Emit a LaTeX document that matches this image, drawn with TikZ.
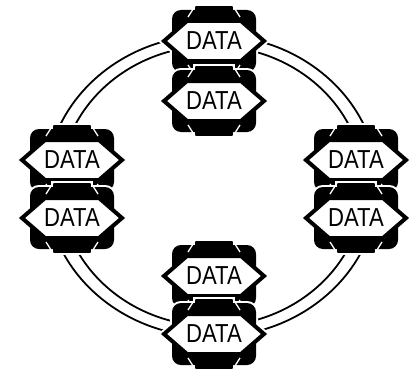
\documentclass[tikz,border=0pt]{standalone}
\usepackage{fontspec}
\setmainfont{Liberation Sans}
\begin{document}
\begin{tikzpicture}[x=1pt,y=-1pt,
  ringline/.style={draw=black, line width=1.8pt},
  datatext/.style={inner sep=0pt, font=\fontsize{26}{26}\selectfont},
  dataicon/.pic={
    % white halo
    \draw[white, line width=4pt, rounded corners=9pt] (-42,-31) rectangle (42,31);
    \draw[white, line width=4pt] (-19,-35) rectangle (19,35);
    \draw[white, line width=8pt, line join=miter] (-50,0) -- (-27,-20) -- (27,-20) -- (50,0) -- (27,20) -- (-27,20) -- cycle;
    % black body
    \fill[black, rounded corners=9pt] (-42,-31) rectangle (42,31);
    \fill[black] (-19,-35) rectangle (19,35);
    % notch lines
    \draw[white, line width=1.3pt] (-19,-35) -- (-26,-24) (19,-35) -- (26,-24)
                                   (-19,35) -- (-26,24) (19,35) -- (26,24);
    % hexagon
    \filldraw[fill=white, draw=black, line width=4pt, line join=miter]
      (-50,0) -- (-27,-20) -- (27,-20) -- (50,0) -- (27,20) -- (-27,20) -- cycle;
    \node[datatext] (-text) {\scalebox{0.85}[1]{DATA}};
  }]
\useasboundingbox (0,0) rectangle (411,369);
% ring
\draw[ringline] (212,186) ellipse [x radius=166, y radius=151];
\draw[ringline] (212,186) ellipse [x radius=152, y radius=140];
% icons
\pic (t1) at (214,41) {dataicon};
\pic (t2) at (214,101) {dataicon};
\pic (l1) at (72,160) {dataicon};
\pic (l2) at (72,218) {dataicon};
\pic (r1) at (356,160) {dataicon};
\pic (r2) at (356,218) {dataicon};
\pic (b1) at (214,276) {dataicon};
\pic (b2) at (214,334) {dataicon};
\end{tikzpicture}
\end{document}
